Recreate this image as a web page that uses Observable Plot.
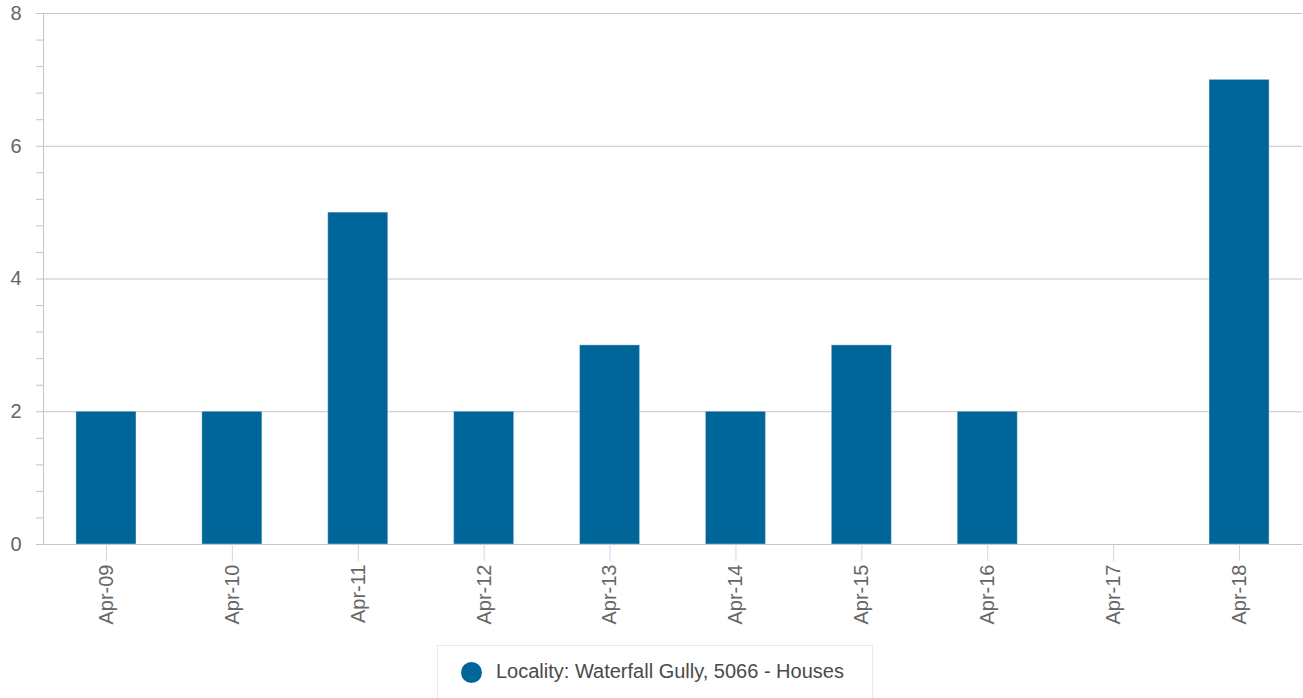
<!DOCTYPE html>
<html>
<head>
<meta charset="utf-8">
<script src="https://cdn.jsdelivr.net/npm/d3@7"></script>
<script src="https://cdn.jsdelivr.net/npm/@observablehq/plot@0.6"></script>
<style>
  body { margin: 0; background: #fff; font-family: "Liberation Sans", Arial, Helvetica, sans-serif; }
  #chart svg { display: block; }
  .legend {
    position: absolute; left: 437px; top: 645px; width: 436px; height: 60px;
    border: 1px solid #e8e8e8; box-sizing: border-box; background: #fff;
  }
  .legend .dot { position: absolute; left: 23px; top: 16px; width: 21px; height: 21px; border-radius: 50%; background: #006699; }
  .legend .lbl { position: absolute; left: 58px; top: 14px; font-size: 20px; color: #4a4a4a; white-space: nowrap; }
</style>
</head>
<body>
<div id="chart"></div>
<div class="legend"><div class="dot"></div><div class="lbl">Locality: Waterfall Gully, 5066 - Houses</div></div>
<script>
const months = ["Apr-09","Apr-10","Apr-11","Apr-12","Apr-13","Apr-14","Apr-15","Apr-16","Apr-17","Apr-18"];
const values = [2, 2, 5, 2, 3, 2, 3, 2, 0, 7];
const yTicks = [0, 2, 4, 6, 8];
const yMinor = d3.range(0, 21).map(i => i * 0.4);

const data = months.map((m, i) => ({month: m, value: values[i]}));

const chart = Plot.plot({
  width: 1303,
  height: 640,
  marginLeft: 43,
  marginRight: 1,
  marginTop: 13,
  marginBottom: 96,
  style: {fontFamily: '"Liberation Sans", Arial, Helvetica, sans-serif', background: "#fff"},
  x: {type: "band", domain: months, paddingInner: 0.523, paddingOuter: 0.2615, round: false, axis: null},
  y: {domain: [0, 8], axis: null},
  marks: [
    Plot.gridY(yTicks, {stroke: "#c4c4c4", strokeOpacity: 1}),
    Plot.frame({anchor: "left", stroke: "#c4c4c4"}),
    Plot.barY(data, {x: "month", y: "value", fill: "#006699", stroke: "#ffffff", strokeOpacity: 0.35, strokeWidth: 1}),
    Plot.ruleY([0], {stroke: "#c4c4c4"}),
    Plot.axisY(yMinor, {tickSize: 7, tickFormat: () => "", stroke: "#c4c4c4", label: null}),
    Plot.axisY(yTicks, {tickSize: 0, tickPadding: 22, tickFormat: d => String(d), fontSize: 20, fill: "#666", label: null}),
    Plot.axisX(months, {tickSize: 17, tickRotate: -90, tickPadding: 3, stroke: "#ccd6eb", fill: "#666", fontSize: 20, label: null})
  ]
});
document.getElementById("chart").appendChild(chart);
</script>
</body>
</html>
